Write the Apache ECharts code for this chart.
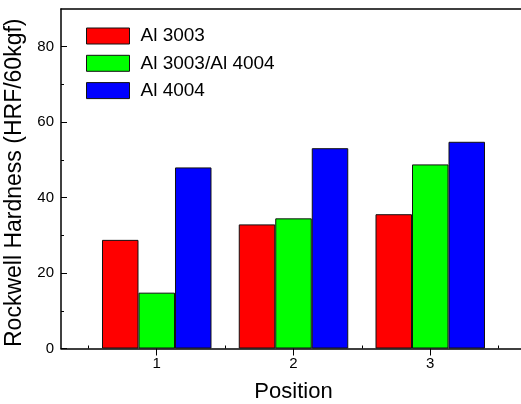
<!DOCTYPE html>
<html>
<head>
<meta charset="utf-8">
<script src="https://cdn.jsdelivr.net/npm/echarts@6/dist/echarts.min.js"></script>
<style>html,body{margin:0;padding:0;background:#fff}#c{width:521px;height:404px}</style>
</head>
<body>
<div id="c"></div>
<script>
const positions = [1, 2, 3];
const seriesNames = ['Al 3003', 'Al 3003/Al 4004', 'Al 4004'];
const al3003 = [28.8, 32.9, 35.6];
const al3003_4004 = [14.8, 34.5, 48.8];
const al4004 = [48.0, 53.1, 54.8];
const yMajorTicks = [0, 20, 40, 60, 80];
const yMinorTicks = [10, 30, 50, 70];
const xMinorTicks = [0.5, 1.5, 2.5, 3.5];
const colors = ['#ff0000', '#00ff00', '#0000ff'];

const FONT = 'Liberation Sans, Arial, sans-serif';
const chart = echarts.init(document.getElementById('c'), null, {renderer: 'canvas'});
const allValues = [al3003, al3003_4004, al4004];

const series = seriesNames.map((name, i) => ({
  name: name,
  type: 'bar',
  xAxisIndex: 0,
  yAxisIndex: 0,
  barWidth: 36.5,
  barGap: '0%',
  itemStyle: {color: colors[i], borderColor: '#111', borderWidth: 1},
  data: positions.map((p, j) => [p, allValues[i][j]])
}));

chart.setOption({
  animation: false,
  backgroundColor: '#fff',
  textStyle: {fontFamily: FONT},
  grid: {left: 61, top: 9, bottom: 55.5, width: 465, containLabel: false, outerBoundsMode: 'none'},
  legend: {
    data: seriesNames,
    orient: 'vertical',
    left: 86, top: 26.5, padding: 0,
    itemWidth: 43, itemHeight: 16, itemGap: 8.3,
    icon: 'rect',
    itemStyle: {borderColor: '#111', borderWidth: 1},
    textStyle: {fontSize: 19, color: '#000', fontFamily: FONT, padding: [0, 0, 0, 6]}
  },
  xAxis: [
    {
      type: 'value', position: 'bottom', min: 0.3, max: 3.7,
      name: 'Position', nameLocation: 'middle', nameGap: 32,
      nameTextStyle: {fontSize: 22, color: '#000', fontFamily: FONT},
      axisLine: {show: true, lineStyle: {color: '#000', width: 1.5}},
      axisTick: {show: true, inside: false, length: 7, customValues: positions, lineStyle: {color: '#000', width: 1}},
      axisLabel: {show: true, customValues: positions, fontSize: 15, color: '#000', margin: 8, fontFamily: FONT},
      splitLine: {show: false}
    },
    {
      type: 'value', position: 'bottom', min: 0.3, max: 3.7,
      axisLine: {show: false},
      axisTick: {show: true, inside: true, length: 3, customValues: xMinorTicks, lineStyle: {color: '#000', width: 1}},
      axisLabel: {show: false},
      splitLine: {show: false}
    },
    {
      type: 'value', position: 'top', min: 0.3, max: 3.7,
      axisLine: {show: true, lineStyle: {color: '#000', width: 1.5}},
      axisTick: {show: false}, axisLabel: {show: false}, splitLine: {show: false}
    }
  ],
  yAxis: [
    {
      type: 'value', position: 'left', min: 0, max: 90,
      name: 'Rockwell Hardness (HRF/60kgf)', nameLocation: 'middle', nameGap: 29,
      nameTextStyle: {fontSize: 23, color: '#000', fontFamily: FONT, padding: [0, 8, 0, 0]},
      axisLine: {show: true, lineStyle: {color: '#000', width: 1.5}},
      axisTick: {show: true, inside: true, length: 6, customValues: yMajorTicks, lineStyle: {color: '#000', width: 1}},
      axisLabel: {show: true, customValues: yMajorTicks, fontSize: 15, color: '#000', margin: 7, fontFamily: FONT},
      splitLine: {show: false}
    },
    {
      type: 'value', position: 'left', min: 0, max: 90,
      axisLine: {show: false},
      axisTick: {show: true, inside: true, length: 3, customValues: yMinorTicks, lineStyle: {color: '#000', width: 1}},
      axisLabel: {show: false},
      splitLine: {show: false}
    }
  ],
  series: series
});
</script>
</body>
</html>
